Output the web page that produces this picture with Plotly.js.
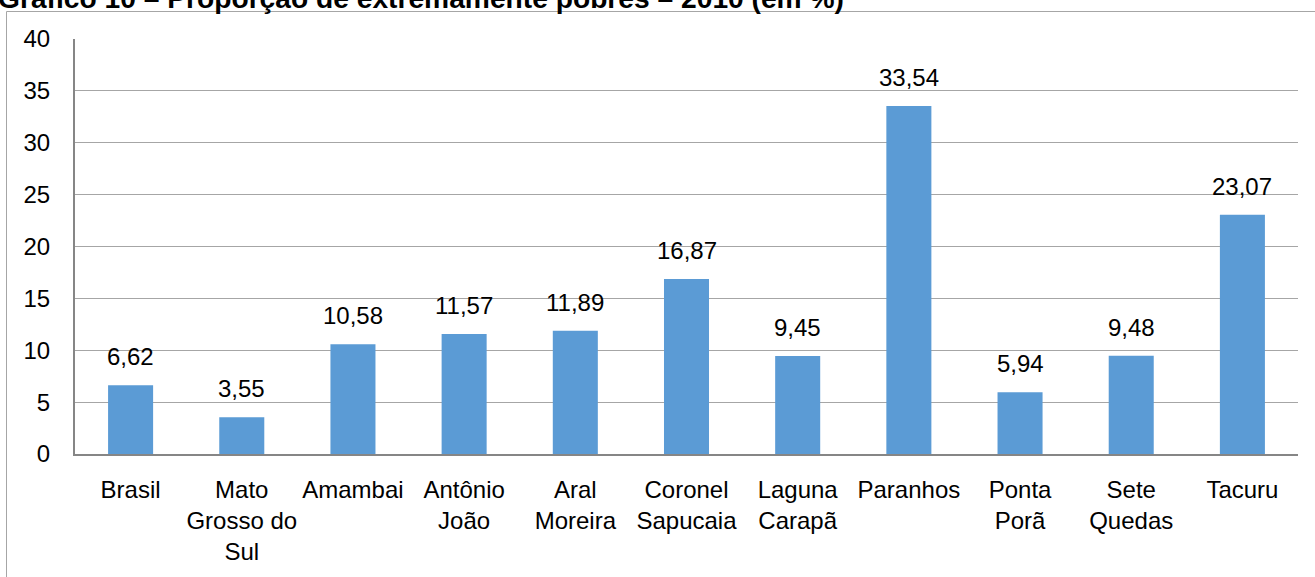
<!DOCTYPE html>
<html><head><meta charset="utf-8">
<script src="https://cdn.plot.ly/plotly-3.0.1.min.js"></script>
<style>html,body{margin:0;padding:0;background:#fff}#c{width:1315px;height:577px}</style>
</head><body><div id="c"></div>
<script>
const categories = ["Brasil","Mato<br>Grosso do<br>Sul","Amambai","Antônio<br>João","Aral<br>Moreira","Coronel<br>Sapucaia","Laguna<br>Carapã","Paranhos","Ponta<br>Porã","Sete<br>Quedas","Tacuru"];
const values = [6.62,3.55,10.58,11.57,11.89,16.87,9.45,33.54,5.94,9.48,23.07];
const titleText = "Gráfico 10 – Proporção de extremamente pobres – 2010 (em %)";

const FONT = "'Liberation Sans', Arial, sans-serif";
const FS = 24;
const W = 1315, H = 577, L = 75, R = 17, T = 39, B = 123;
const pw = W - L - R, ph = H - T - B;
const px = x => (x - L) / pw;
const py = y => (H - B - y) / ph;

const labelAnns = categories.map((c, i) => ({
  x: c, y: values[i], xref: 'x', yref: 'y',
  text: values[i].toFixed(2).replace('.', ','),
  showarrow: false, yanchor: 'bottom', yshift: 13,
  font: {family: FONT, size: FS, color: '#000'}
}));

const layout = {
  width: W, height: H,
  margin: {l: L, r: R, t: T, b: B, pad: 0},
  paper_bgcolor: '#fff', plot_bgcolor: '#fff',
  showlegend: false,
  bargap: 0.595,
  separators: ',.',
  font: {family: FONT, size: FS, color: '#000'},
  xaxis: {
    type: 'category', showgrid: false, ticks: '', showline: true,
    linecolor: '#868686', linewidth: 2, tickfont: {family: FONT, size: FS, color: '#000'},
    ticklabelstandoff: 13, fixedrange: true
  },
  yaxis: {
    range: [0, 40], dtick: 5, showgrid: true, gridcolor: '#A6A6A6', gridwidth: 1,
    showline: true, linecolor: '#868686', linewidth: 2, ticks: '', zeroline: false,
    tickfont: {family: FONT, size: FS, color: '#000'}, ticklabelstandoff: 18,
    fixedrange: true
  },
  shapes: [{
    type: 'rect', xref: 'paper', yref: 'paper',
    x0: px(6.5), x1: px(1330), y0: py(590), y1: py(11.5),
    line: {color: '#A6A6A6', width: 1}, fillcolor: 'rgba(0,0,0,0)', layer: 'below'
  }],
  annotations: [{
    xref: 'paper', yref: 'paper', x: px(846), y: py(-2), xanchor: 'right', yanchor: 'middle',
    text: '<b>' + titleText + '</b>', showarrow: false,
    font: {family: FONT, size: 28.2, color: '#000'}
  }].concat(labelAnns)
};

Plotly.newPlot('c', [{
  type: 'bar', x: categories, y: values,
  marker: {color: '#5B9BD5', line: {width: 0}},
  hoverinfo: 'none'
}], layout, {displayModeBar: false, staticPlot: true});
</script></body></html>
